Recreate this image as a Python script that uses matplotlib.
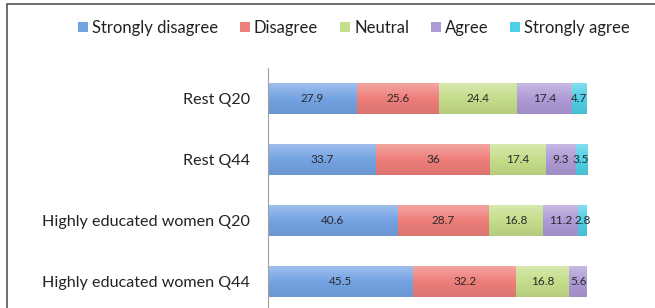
import numpy as np
import matplotlib
matplotlib.use("Agg")
import matplotlib.pyplot as plt
from matplotlib.patches import Rectangle
from matplotlib.colors import LinearSegmentedColormap, to_rgb

plt.rcParams['font.family'] = ['Lato', 'DejaVu Sans']

# Data
groups = ["Rest Q20", "Rest Q44", "Highly educated women Q20", "Highly educated women Q44"]
categories = ["Strongly disagree", "Disagree", "Neutral", "Agree", "Strongly agree"]
strongly_disagree = [27.9, 33.7, 40.6, 45.5]
disagree = [25.6, 36, 28.7, 32.2]
neutral = [24.4, 17.4, 16.8, 16.8]
agree = [17.4, 9.3, 11.2, 5.6]
strongly_agree = [4.7, 3.5, 2.8, 0]
series = [strongly_disagree, disagree, neutral, agree, strongly_agree]
colors = ["#74A3E3", "#EE7E7A", "#C5DE8A", "#AE9AD6", "#4FCFE6"]


def shade(col, f):
    # f > 0 lightens towards white, f < 0 darkens
    c = np.array(to_rgb(col))
    return tuple(c + (1 - c) * f) if f > 0 else tuple(c * (1 + f))


fig = plt.figure(figsize=(6.55, 3.08), dpi=100)
ax = fig.add_axes([268 / 655, 1 - 312 / 308, 319 / 655, 244 / 308])

y = np.arange(len(groups))
h = 0.5
grad = np.linspace(0, 1, 32).reshape(-1, 1)
left = np.zeros(len(groups))
for vals, name, col in zip(series, categories, colors):
    vals = np.array(vals, dtype=float)
    ax.barh(y, vals, left=left, height=h, color=col, label=name)
    cmap = LinearSegmentedColormap.from_list(
        name, [shade(col, 0.3), col, shade(col, -0.08)])
    for yi, (l, v) in enumerate(zip(left, vals)):
        if v > 0:
            ax.imshow(grad, extent=(l, l + v, yi + h / 2, yi - h / 2),
                      aspect="auto", cmap=cmap, origin="upper", zorder=2,
                      interpolation="bilinear")
            ax.text(l + v / 2, yi, f"{v:g}", ha="center", va="center",
                    fontsize=8.5, color="#2a2a2a", zorder=3)
    left += vals

ax.set_xlim(0, 100)
ax.set_ylim(3.5, -0.5)
ax.set_yticks(y)
ax.set_yticklabels(groups, fontsize=11.6, color="#222222")
ax.tick_params(axis="y", length=0, pad=13)
ax.set_xticks([])
for s in ["top", "right", "bottom"]:
    ax.spines[s].set_visible(False)
ax.spines["left"].set_color("#A0A0A0")

fig.legend(loc="center", bbox_to_anchor=(354 / 655, 1 - 28 / 308), ncol=5,
           frameon=False, fontsize=12, handlelength=0.6, handleheight=0.6,
           handletextpad=0.25, columnspacing=1.3, labelcolor="#222222")

fig.patches.append(Rectangle((7 / 655, -0.1), 2, 1.1 - 4 / 308,
                             transform=fig.transFigure, fill=False,
                             edgecolor="#555555", linewidth=1.2))

fig.savefig("out.png", dpi=100)
